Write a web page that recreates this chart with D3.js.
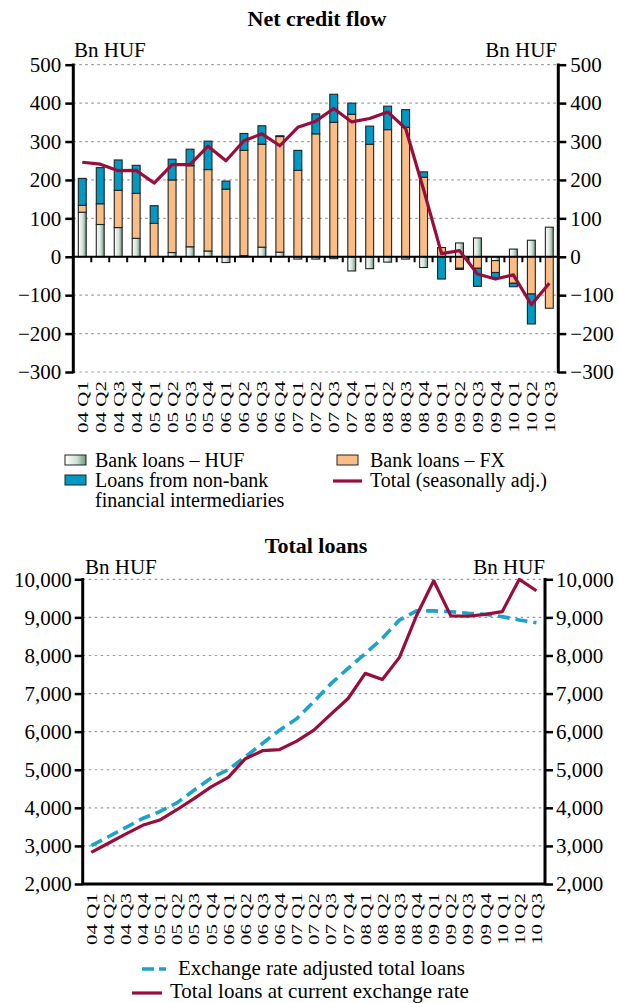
<!DOCTYPE html>
<html>
<head>
<meta charset="utf-8">
<script src="https://cdn.jsdelivr.net/npm/d3@7"></script>
<style>
  body { margin: 0; background: #fff; }
  svg { display: block; font-family: "Liberation Serif", "DejaVu Serif", serif; }
</style>
</head>
<body>
<svg id="chart" width="619" height="1003"></svg>
<script>
// quarters 04 Q1 .. 10 Q3
var quarters = ['04 Q1','04 Q2','04 Q3','04 Q4','05 Q1','05 Q2','05 Q3','05 Q4',
                '06 Q1','06 Q2','06 Q3','06 Q4','07 Q1','07 Q2','07 Q3','07 Q4',
                '08 Q1','08 Q2','08 Q3','08 Q4','09 Q1','09 Q2','09 Q3','09 Q4',
                '10 Q1','10 Q2','10 Q3'];

// net credit flow, Bn HUF
var bankHuf = [116, 84, 76, 48, 0, 11, 26, 15, -15, 3, 25, 12, -6, -6, -5, -37,
               -31, -14, -6, -28, 0, 36, 49, -10, 20, 43, 77];
var bankFx = [18, 54, 97, 117, 87, 189, 211, 212, 176, 274, 268, 301, 225, 320, 350, 371,
              293, 331, 337, 207, 24, -30, -30, -31, -69, -97, -134];
var nonBank = [70, 94, 79, 73, 46, 54, 43, 74, 21, 44, 48, 2, 52, 52, 73, 29,
               47, 61, 46, 14, -58, -3, -47, -13, -9, -78, 0];
var totalSa = [246, 241, 224, 225, 192, 240, 240, 288, 250, 302, 320, 289, 337, 353, 386, 351,
               360, 377, 334, 175, 8, 16, -45, -58, -47, -125, -69];
var flowTicks = [-300, -200, -100, 0, 100, 200, 300, 400, 500];

// total loans, Bn HUF
var loansAdjusted = [3010, 3240, 3480, 3720, 3900, 4130, 4460, 4780, 5000, 5340, 5690, 6040, 6340, 6790,
                     7260, 7660, 8050, 8450, 8930, 9170, 9170, 9150, 9110, 9080, 9020, 8930, 8860];
var loansCurrent = [2830, 3070, 3310, 3540, 3680, 3950, 4240, 4550, 4800, 5290, 5500, 5530, 5750, 6040,
                    6460, 6870, 7530, 7370, 7950, 9050, 9960, 9040, 9030, 9080, 9150, 10000, 9700];
var loanTicks = [2000, 3000, 4000, 5000, 6000, 7000, 8000, 9000, 10000];

var RED = '#9a0d3a', BLUE = '#0099c4', DASHBLUE = '#1ba3cc', ORANGE = '#f9bd85';

var svg = d3.select('#chart');

var defs = svg.append('defs');
var grad = defs.append('linearGradient').attr('id', 'hufGrad')
    .attr('x1', '0%').attr('x2', '100%').attr('y1', '0%').attr('y2', '0%');
grad.append('stop').attr('offset', '0%').attr('stop-color', '#ffffff');
grad.append('stop').attr('offset', '55%').attr('stop-color', '#d3e1d8');
grad.append('stop').attr('offset', '100%').attr('stop-color', '#6d9580');

function tickLabels(g, x, yTop) {
    g.selectAll('text.q').data(quarters).enter().append('text')
        .attr('class', 'q')
        .attr('transform', function(d) {
            return 'translate(' + (x(d) + x.bandwidth() / 2) + ',' + yTop + ') rotate(-90) scale(1,0.72)';
        })
        .attr('text-anchor', 'end')
        .attr('dy', '0.36em')
        .attr('font-size', 21)
        .text(function(d) { return d; });
}

function frame(g, y, ticks, x0, x1, fmt, labelGapL, labelGapR) {
    g.append('g').selectAll('line').data(ticks).enter().append('line')
        .attr('x1', x0).attr('x2', x1)
        .attr('y1', function(d) { return y(d); }).attr('y2', function(d) { return y(d); })
        .attr('stroke', '#9a9a9a').attr('stroke-width', 1.2).attr('stroke-dasharray', '2.5,3.5');

    var left = d3.axisLeft(y).tickValues(ticks).tickSize(8).tickPadding(labelGapL).tickFormat(fmt);
    var right = d3.axisRight(y).tickValues(ticks).tickSize(8).tickPadding(labelGapR).tickFormat(fmt);
    [[left, x0], [right, x1]].forEach(function(a) {
        var ax = g.append('g').attr('transform', 'translate(' + a[1] + ',0)').call(a[0]);
        ax.select('.domain').remove();
        ax.selectAll('.tick line').attr('stroke', '#000').attr('stroke-width', 2.5);
        ax.selectAll('.tick text').attr('font-size', 21).attr('fill', '#000')
            .attr('font-family', '"Liberation Serif", serif');
        ax.append('line').attr('y1', y.range()[0] + 1.25).attr('y2', y.range()[1] - 1.25)
            .attr('stroke', '#000').attr('stroke-width', 3);
    });
}

// ---------- Net credit flow ----------
var gTop = svg.append('g');
var x1 = d3.scaleBand().domain(quarters).range([73.3, 558.3]);
var y1 = d3.scaleLinear().domain([-300, 500]).range([372, 64.7]);

gTop.append('text').attr('x', 317).attr('y', 26).attr('text-anchor', 'middle')
    .attr('font-weight', 'bold').attr('font-size', 22).text('Net credit flow');
gTop.append('text').attr('x', 74).attr('y', 57).attr('font-size', 21).text('Bn HUF');
gTop.append('text').attr('x', 557).attr('y', 57).attr('text-anchor', 'end').attr('font-size', 21).text('Bn HUF');

frame(gTop, y1, flowTicks, 73.3, 558.3, d3.format(''), 4, 4);

var rows = quarters.map(function(q, i) {
    return { q: q, huf: bankHuf[i], fx: bankFx[i], nb: nonBank[i] };
});
var series = d3.stack().keys(['huf', 'fx', 'nb']).offset(d3.stackOffsetDiverging)(rows);
var fills = { huf: 'url(#hufGrad)', fx: ORANGE, nb: BLUE };
var barW = x1.bandwidth() * 0.44;

series.forEach(function(s) {
    gTop.append('g').selectAll('rect').data(s.filter(function(d) { return d[1] !== d[0]; }))
        .enter().append('rect')
        .attr('x', function(d) { return x1(d.data.q) + (x1.bandwidth() - barW) / 2; })
        .attr('width', barW)
        .attr('y', function(d) { return y1(Math.max(d[0], d[1])); })
        .attr('height', function(d) { return Math.abs(y1(d[0]) - y1(d[1])); })
        .attr('fill', fills[s.key])
        .attr('stroke', '#222').attr('stroke-width', 1.1);
});

// zero line with ticks between quarters
gTop.append('line').attr('x1', 73.3).attr('x2', 558.3).attr('y1', y1(0)).attr('y2', y1(0))
    .attr('stroke', '#000').attr('stroke-width', 2.2);
gTop.append('g').selectAll('line').data(quarters.slice(1)).enter().append('line')
    .attr('x1', function(d) { return x1(d); }).attr('x2', function(d) { return x1(d); })
    .attr('y1', y1(0)).attr('y2', y1(0) + 5.5)
    .attr('stroke', '#000').attr('stroke-width', 2);

var lineTop = d3.line()
    .x(function(d, i) { return x1(quarters[i]) + x1.bandwidth() / 2; })
    .y(function(d) { return y1(d); });
gTop.append('path').datum(totalSa).attr('d', lineTop)
    .attr('fill', 'none').attr('stroke', RED).attr('stroke-width', 3.2).attr('stroke-linejoin', 'round');

tickLabels(gTop, x1, 381);

// legend
var lg = gTop.append('g').attr('font-size', 20);
lg.append('rect').attr('x', 65).attr('y', 455).attr('width', 21).attr('height', 10)
    .attr('fill', 'url(#hufGrad)').attr('stroke', '#222');
lg.append('text').attr('x', 95).attr('y', 467).text('Bank loans \u2013 HUF');
lg.append('rect').attr('x', 65).attr('y', 475).attr('width', 21).attr('height', 10)
    .attr('fill', BLUE).attr('stroke', '#222');
lg.append('text').attr('x', 95).attr('y', 487).text('Loans from non-bank');
lg.append('text').attr('x', 95).attr('y', 507).text('financial intermediaries');
lg.append('rect').attr('x', 337).attr('y', 455).attr('width', 21).attr('height', 10)
    .attr('fill', ORANGE).attr('stroke', '#222');
lg.append('text').attr('x', 370).attr('y', 467).text('Bank loans \u2013 FX');
lg.append('line').attr('x1', 333).attr('x2', 362).attr('y1', 481).attr('y2', 481)
    .attr('stroke', RED).attr('stroke-width', 3.2);
lg.append('text').attr('x', 370).attr('y', 487).text('Total (seasonally adj.)');

// ---------- Total loans ----------
var gBot = svg.append('g');
var x2 = d3.scaleBand().domain(quarters).range([82.7, 545]);
var y2 = d3.scaleLinear().domain([2000, 10000]).range([884, 579.3]);

gBot.append('text').attr('x', 316).attr('y', 553).attr('text-anchor', 'middle')
    .attr('font-weight', 'bold').attr('font-size', 22).text('Total loans');
gBot.append('text').attr('x', 85).attr('y', 574).attr('font-size', 21).text('Bn HUF');
gBot.append('text').attr('x', 545).attr('y', 574).attr('text-anchor', 'end').attr('font-size', 21).text('Bn HUF');

frame(gBot, y2, loanTicks, 82.7, 545, d3.format(','), 3, 3);
gBot.append('line').attr('x1', 82.7).attr('x2', 545).attr('y1', y2(2000)).attr('y2', y2(2000))
    .attr('stroke', '#000').attr('stroke-width', 3);

var lineBot = d3.line()
    .x(function(d, i) { return x2(quarters[i]) + x2.bandwidth() / 2; })
    .y(function(d) { return y2(d); });
gBot.append('path').datum(loansAdjusted).attr('d', lineBot)
    .attr('fill', 'none').attr('stroke', DASHBLUE).attr('stroke-width', 3.6)
    .attr('stroke-dasharray', '12,6');
gBot.append('path').datum(loansCurrent).attr('d', lineBot)
    .attr('fill', 'none').attr('stroke', RED).attr('stroke-width', 3.2).attr('stroke-linejoin', 'round');

tickLabels(gBot, x2, 893);

var lg2 = gBot.append('g').attr('font-size', 21);
lg2.append('line').attr('x1', 142).attr('x2', 166).attr('y1', 969).attr('y2', 969)
    .attr('stroke', DASHBLUE).attr('stroke-width', 3.6).attr('stroke-dasharray', '12,5');
lg2.append('text').attr('x', 178).attr('y', 975).text('Exchange rate adjusted total loans');
lg2.append('line').attr('x1', 132).attr('x2', 162).attr('y1', 993).attr('y2', 993)
    .attr('stroke', RED).attr('stroke-width', 3.2);
lg2.append('text').attr('x', 170).attr('y', 998).text('Total loans at current exchange rate');
</script>
</body>
</html>
